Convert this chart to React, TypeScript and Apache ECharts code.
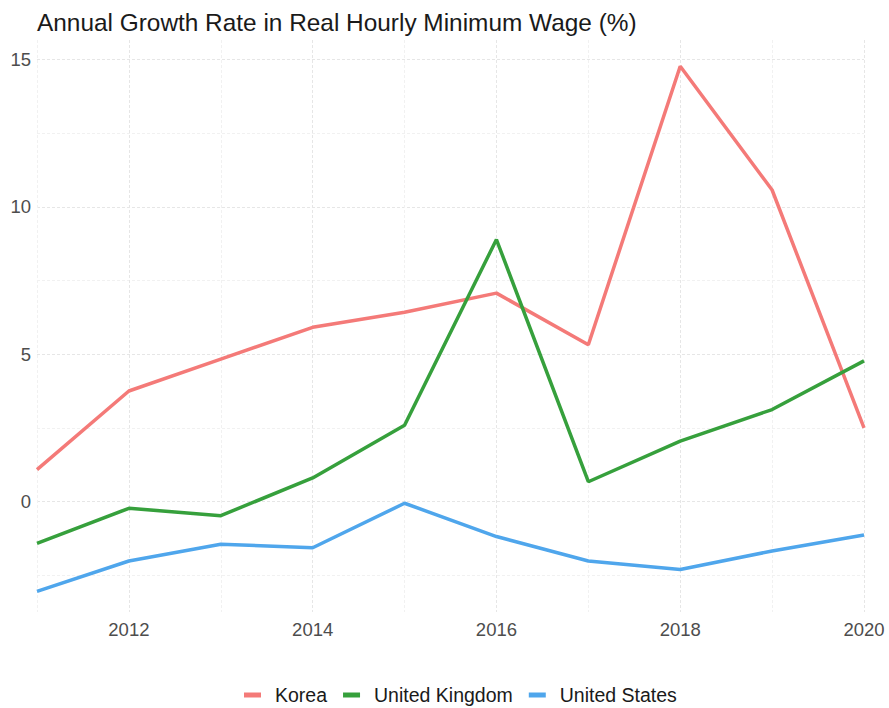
import React, { useEffect, useRef } from "react";
import * as echarts from "echarts";

const years = [2011, 2012, 2013, 2014, 2015, 2016, 2017, 2018, 2019, 2020];
const korea = [1.08, 3.75, 4.83, 5.91, 6.42, 7.07, 5.32, 14.77, 10.57, 2.5];
const unitedKingdom = [-1.42, -0.23, -0.48, 0.8, 2.59, 8.89, 0.67, 2.05, 3.12, 4.77];
const unitedStates = [-3.05, -2.02, -1.45, -1.57, -0.06, -1.19, -2.02, -2.31, -1.68, -1.14];
const seriesNames = ["Korea", "United Kingdom", "United States"];
const seriesColors = ["#F47A78", "#36A03C", "#4FA6EC"];
const titleText = "Annual Growth Rate in Real Hourly Minimum Wage (%)";

const FONT = "Liberation Sans, Arial, sans-serif";

export default function App() {
  const ref = useRef<HTMLDivElement>(null);
  useEffect(() => {
    if (!ref.current) return;
    const chart = echarts.init(ref.current, undefined, { renderer: "svg" });
    const allSeries = [korea, unitedKingdom, unitedStates];
    chart.setOption({
      animation: false,
      backgroundColor: "#ffffff",
      title: {
        text: titleText,
        left: 37,
        top: 10,
        padding: 0,
        textStyle: { fontFamily: FONT, fontSize: 24.4, fontWeight: "normal", color: "#1a1a1a" },
      },
      legend: {
        bottom: 3,
        left: 244,
        padding: 0,
        icon: "rect",
        itemWidth: 17,
        itemHeight: 5,
        itemGap: 16,
        textStyle: { fontFamily: FONT, fontSize: 19.5, color: "#1a1a1a", padding: [0, 0, 0, 9] },
        data: seriesNames,
      },
      grid: { left: 37, right: 25, top: 40, bottom: 96, containLabel: false },
      xAxis: {
        type: "value",
        min: 2011,
        max: 2020,
        interval: 1,
        axisLine: { show: false },
        axisTick: { show: false },
        axisLabel: {
          fontFamily: FONT,
          fontSize: 18.5,
          color: "#4d4d4d",
          margin: 8,
          formatter: (v: number) => (v % 2 === 0 ? String(v) : ""),
        },
        splitLine: {
          show: true,
          lineStyle: { color: ["#f1f1f1", "#e6e6e6"], width: 1, type: [3, 2] },
        },
      },
      yAxis: {
        type: "value",
        min: -3.75,
        max: 15.66,
        interval: 1.25,
        axisLine: { show: false },
        axisTick: { show: false },
        axisLabel: {
          fontFamily: FONT,
          fontSize: 18.5,
          color: "#4d4d4d",
          margin: 6,
          formatter: (v: number) => (Math.abs(v % 5) < 1e-9 ? String(v) : ""),
        },
        splitLine: {
          show: true,
          lineStyle: {
            color: ["rgba(0,0,0,0)", "#f1f1f1", "rgba(0,0,0,0)", "#e6e6e6"],
            width: 1,
            type: [3, 2],
          },
        },
      },
      series: seriesNames.map((name, i) => ({
        name,
        type: "line",
        data: years.map((y, j) => [y, allSeries[i][j]]),
        showSymbol: false,
        symbol: "none",
        lineStyle: { color: seriesColors[i], width: 3.5 },
        itemStyle: { color: seriesColors[i] },
      })),
    });
    return () => chart.dispose();
  }, []);
  return (
    <div
      ref={ref}
      style={{ position: "absolute", left: 0, top: 0, width: 889, height: 708 }}
    />
  );
}
